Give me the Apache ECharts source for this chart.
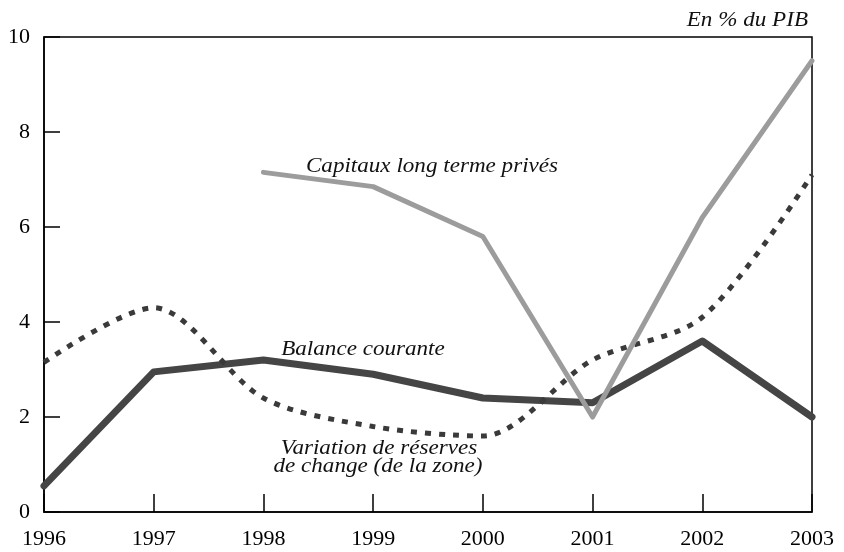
<!DOCTYPE html>
<html>
<head>
<meta charset="utf-8">
<script src="https://cdn.jsdelivr.net/npm/echarts@6/dist/echarts.min.js"></script>
<style>
  html, body { margin: 0; padding: 0; background: #fff; }
  #chart { width: 844px; height: 552px; }
</style>
</head>
<body>
<div id="chart"></div>
<script>
// Années et séries (en % du PIB)
const years = ['1996', '1997', '1998', '1999', '2000', '2001', '2002', '2003'];
const balanceCourante = [0.55, 2.95, 3.2, 2.9, 2.4, 2.3, 3.6, 2.0];
const capitauxPrives = [null, null, 7.15, 6.85, 5.8, 2.0, 6.2, 9.5];
const variationReserves = [3.15, 4.3, 2.4, 1.8, 1.6, 3.2, 4.1, 7.1];
const yMin = 0, yMax = 10, yStep = 2;

const serif = '"Liberation Serif", "Times New Roman", serif';
const labelFont = 'italic 21px ' + serif;

const chart = echarts.init(document.getElementById('chart'), null, { renderer: 'canvas' });

// Annotation en italique, légèrement élargie
function note(text, x, y, align) {
  return {
    type: 'text',
    x: x, y: y,
    scaleX: 1.1,
    z: 10,
    style: {
      text: text,
      font: labelFont,
      fill: '#111',
      textAlign: align || 'center',
      textVerticalAlign: 'middle'
    }
  };
}

chart.setOption({
  animation: false,
  backgroundColor: '#fff',
  grid: {
    left: 44, right: 32, top: 37, bottom: 40,
    show: true,
    borderColor: '#000',
    borderWidth: 1.5,
    outerBoundsMode: 'none'
  },
  xAxis: {
    type: 'category',
    data: years,
    boundaryGap: false,
    axisLine: { lineStyle: { color: '#000', width: 1.5 } },
    axisTick: { inside: true, length: 18, lineStyle: { color: '#000', width: 1.5 } },
    axisLabel: { color: '#000', fontFamily: serif, fontSize: 22, margin: 16 },
    splitLine: { show: false }
  },
  yAxis: {
    type: 'value',
    min: yMin, max: yMax, interval: yStep,
    axisLine: { show: true, lineStyle: { color: '#000', width: 1.5 } },
    axisTick: { show: true, inside: true, length: 16, lineStyle: { color: '#000', width: 1.5 } },
    axisLabel: { color: '#000', fontFamily: serif, fontSize: 22, margin: 14 },
    splitLine: { show: false }
  },
  series: [
    {
      name: 'Balance courante',
      type: 'line',
      data: balanceCourante,
      showSymbol: false,
      smooth: false,
      lineStyle: { color: '#454545', width: 7, join: 'round', cap: 'round' },
      z: 2
    },
    {
      name: 'Variation de réserves de change (de la zone)',
      type: 'line',
      data: variationReserves,
      showSymbol: false,
      smooth: 0.3,
      lineStyle: { color: '#3a3a3a', width: 5, type: [6, 8] },
      z: 3
    },
    {
      name: 'Capitaux long terme privés',
      type: 'line',
      data: capitauxPrives,
      showSymbol: false,
      smooth: false,
      connectNulls: false,
      lineStyle: { color: '#9c9c9c', width: 5, join: 'round', cap: 'round' },
      z: 4
    }
  ],
  graphic: [
    note('En % du PIB', 808, 20.5, 'right'),
    note('Capitaux long terme privés', 432, 166.5),
    note('Balance courante', 363, 349.5),
    note('Variation de réserves', 379, 448.5),
    note('de change (de la zone)', 378, 466.5)
  ]
});
</script>
</body>
</html>
